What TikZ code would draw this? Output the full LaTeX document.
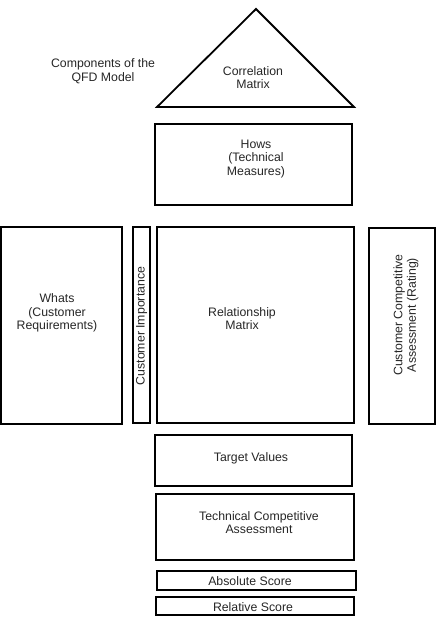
\documentclass[tikz,border=0pt]{standalone}
\usepackage{fontspec}
\setmainfont{Liberation Sans}
\begin{document}
\begin{tikzpicture}[x=1pt,y=-1pt,
  box/.style={draw=black, line width=1.6pt, inner sep=0pt},
  lbl/.style={align=center, inner sep=0pt, text=black!85, font=\fontsize{12.3}{13.5}\selectfont}]
\useasboundingbox (0,0) rectangle (441,634);
% title
\node[lbl] (title) at (103,71) {Components of the\\QFD Model};
% correlation triangle
\coordinate (apex) at (256,9);
\coordinate (bl) at (157,107);
\coordinate (br) at (354,107);
\draw[line width=1.8pt, line join=miter] (apex) -- (bl) -- (br) -- cycle;
\node[lbl] (corr) at (253,77.5) {Correlation\\Matrix};
% boxes
\node[box, minimum width=197pt, minimum height=81pt] (hows) at (253.5,164.5) {};
\node[lbl] (howst) at (256,159) {Hows\\(Technical\\Measures)};
\node[box, minimum width=121pt, minimum height=197pt] (whats) at (61.5,325.5) {};
\node[lbl] (whatst) at (57,313) {Whats\\(Customer\\Requirements)};
\node[box, minimum width=17pt, minimum height=196pt] (ci) at (141.5,325) {};
\node[lbl, rotate=90] (cit) at (141.5,326) {Customer Importance};
\node[box, minimum width=197pt, minimum height=196pt] (rel) at (255.5,325) {};
\node[lbl] (relt) at (242,318.5) {Relationship\\Matrix};
\node[box, minimum width=66pt, minimum height=196pt] (cca) at (402,326) {};
\node[lbl, rotate=90] (ccat) at (406,315) {Customer Competitive\\Assessment (Rating)};
\node[box, minimum width=197pt, minimum height=51pt] (tv) at (253.5,460.5) {};
\node[lbl] (tvt) at (251,458) {Target Values};
\node[box, minimum width=198pt, minimum height=66pt] (tca) at (255,527) {};
\node[lbl] (tcat) at (259,522.5) {Technical Competitive\\Assessment};
\node[box, minimum width=199pt, minimum height=19pt] (abs) at (256.5,580.5) {};
\node[lbl] (abst) at (250,581) {Absolute Score};
\node[box, minimum width=198pt, minimum height=18pt] (relsc) at (255,606) {};
\node[lbl] (relsct) at (253,607) {Relative Score};
\end{tikzpicture}
\end{document}
